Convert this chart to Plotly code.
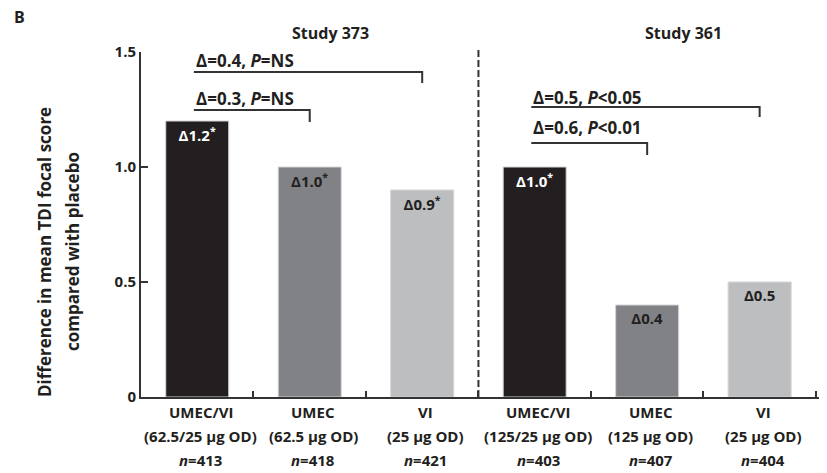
import plotly.graph_objects as go

# ---- data ----
categories = ["UMEC/VI 373", "UMEC 373", "VI 373", "UMEC/VI 361", "UMEC 361", "VI 361"]
values = [1.2, 1.0, 0.9, 1.0, 0.4, 0.5]
bar_labels = ["Δ1.2<sup>*</sup>", "Δ1.0<sup>*</sup>", "Δ0.9<sup>*</sup>",
              "Δ1.0<sup>*</sup>", "Δ0.4", "Δ0.5"]
drug_names = ["UMEC/VI", "UMEC", "VI", "UMEC/VI", "UMEC", "VI"]
doses = ["(62.5/25 µg OD)", "(62.5 µg OD)", "(25 µg OD)",
         "(125/25 µg OD)", "(125 µg OD)", "(25 µg OD)"]
n_values = ["413", "418", "421", "403", "407", "404"]
studies = ["Study 373", "Study 361"]
y_ticks = [0, 0.5, 1.0, 1.5]
y_tick_text = ["0", "0.5", "1.0", "1.5"]
# comparisons: (from bar, to bar, delta text, p text, level)
comparisons = [
    (0, 2, "Δ=0.4, ", "=NS", "top"),
    (0, 1, "Δ=0.3, ", "=NS", "low"),
    (3, 5, "Δ=0.5, ", "<0.05", "top"),
    (3, 4, "Δ=0.6, ", "<0.01", "low"),
]

# ---- style ----
FONT = "Open Sans"
TXT = "#231f20"
bar_colors = ["#231f20", "#808285", "#bcbec0", "#231f20", "#808285", "#bcbec0"]
label_colors = ["#ffffff", TXT, TXT, "#ffffff", TXT, TXT]
AX = "#333333"

# page body adds an 8px offset; plot area target in window pixels: x 141..826, y 52..397
OFF = 8
W, H = 827 - OFF, 473 - OFF
PL, PR, PT, PB = 141, 826, 52, 397
PW, PH = PR - PL, PB - PT

fig = go.Figure()
fig.add_trace(go.Bar(
    x=list(range(len(categories))),
    y=values,
    width=0.56,
    marker=dict(color=bar_colors, line=dict(color="#d4d4d4", width=1)),
    text=["<b>" + t + "</b>" for t in bar_labels],
    textposition="inside",
    insidetextanchor="end",
    insidetextfont=dict(family=FONT, size=15, color=label_colors),
    textangle=0,
    hoverinfo="skip",
))

annotations = []
# category labels (three lines)
for i in range(len(categories)):
    for txt, dy in [(f"<b>{drug_names[i]}</b>", -15),
                    (f"<b>{doses[i]}</b>", -39),
                    (f"<b><i>n</i>={n_values[i]}</b>", -63)]:
        annotations.append(dict(
            x=i + 0.03, y=0, xref="x", yref="paper", text=txt, showarrow=False,
            xanchor="center", yanchor="middle", yshift=dy,
            font=dict(family=FONT, size=15, color=TXT)))

# comparison brackets
shapes = []
levels = {"top": (1.413, 1.365, 1.465), "low": (1.248, 1.196, 1.30)}
levels361 = {"top": (1.261, 1.217, 1.304), "low": (1.104, 1.052, 1.17)}
for a, b, d, p, lvl in comparisons:
    yl, yd, yt = (levels if a < 3 else levels361)[lvl]
    x0 = a - 0.03
    x1 = b
    shapes.append(dict(type="path", xref="x", yref="y",
                       path=f"M {x0},{yl} L {x1},{yl} L {x1},{yd}",
                       line=dict(color=AX, width=2)))
    annotations.append(dict(
        x=x0, y=yt, xref="x", yref="y", showarrow=False,
        xanchor="left", yanchor="middle",
        text=f"<b>{d}<i>P</i>{p}</b>",
        font=dict(family=FONT, size=17, color=TXT)))

# dashed separator
shapes.append(dict(type="line", xref="x", yref="paper", x0=2.5, x1=2.5, y0=0, y1=1.006,
                   line=dict(color="#333333", width=2, dash="7px,3px")))

# study headers
for name, xc in zip(studies, [330, 683]):
    annotations.append(dict(x=(xc - PL) / PW, y=1, xref="paper", yref="paper",
                            yshift=PT - 33, text=f"<b>{name}</b>", showarrow=False,
                            xanchor="center", yanchor="middle",
                            font=dict(family=FONT, size=16, color=TXT)))

# y-axis title (two lines)
for txt, xs in [("Difference in mean TDI focal score", 44),
                ("compared with placebo", 72)]:
    annotations.append(dict(x=(xs - PL) / PW, y=(PB - 252) / PH,
                            xref="paper", yref="paper", text=f"<b>{txt}</b>",
                            showarrow=False, textangle=-90,
                            xanchor="center", yanchor="middle",
                            font=dict(family=FONT, size=17, color=TXT)))

fig.update_layout(
    width=W, height=H,
    margin=dict(l=PL - OFF, r=W - (PR - OFF), t=PT - OFF, b=H - (PB - OFF)),
    plot_bgcolor="white", paper_bgcolor="white",
    showlegend=False,
    shapes=shapes,
    annotations=annotations,
    title=dict(text="<b>B</b>", xref="container", yref="container",
               x=(14 - OFF) / W, y=1 - (17 - OFF) / H,
               xanchor="left", yanchor="middle",
               font=dict(family=FONT, size=16, color=TXT)),
)
fig.update_xaxes(
    range=[-0.5, 5.59], showticklabels=False,
    tickmode="array", tickvals=[i + 0.5 for i in range(len(categories))],
    showline=True, linecolor=AX, linewidth=2,
    ticks="inside", ticklen=6, tickwidth=2, tickcolor=AX,
    showgrid=False, zeroline=False,
)
fig.update_yaxes(
    range=[0, 1.5], tickmode="array", tickvals=y_ticks, ticktext=y_tick_text,
    showline=True, linecolor=AX, linewidth=2,
    ticks="inside", ticklen=7, tickwidth=2, tickcolor=AX,
    tickfont=dict(family=FONT, size=15, color=TXT, weight="bold"),
    showgrid=False, zeroline=False,
)

fig.write_html("out.html")
